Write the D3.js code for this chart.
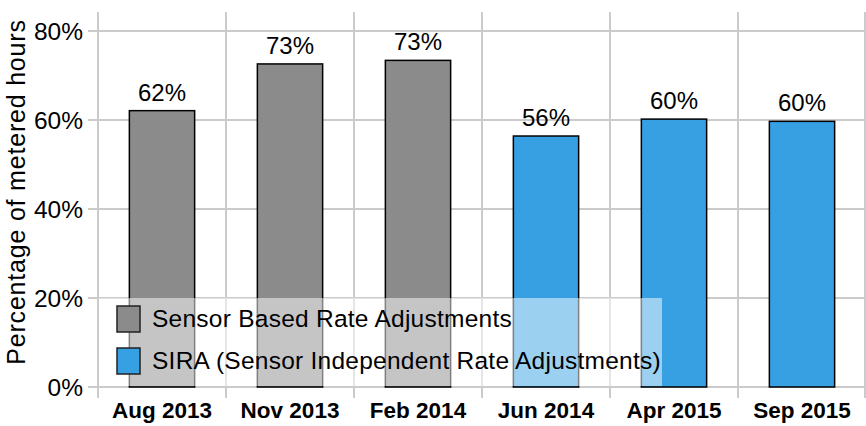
<!DOCTYPE html>
<html><head><meta charset="utf-8">
<script src="https://cdn.jsdelivr.net/npm/d3@7"></script>
<style>body{margin:0;background:#fff}svg{display:block}text{font-family:"Liberation Sans",Arial,sans-serif}</style>
</head><body><svg id="c" width="866" height="426"></svg>
<script>
const categories = ["Aug 2013","Nov 2013","Feb 2014","Jun 2014","Apr 2015","Sep 2015"];
const values = [62.1, 72.6, 73.4, 56.4, 60.2, 59.7];
const labels = ["62%","73%","73%","56%","60%","60%"];
const groups = ["Sensor Based Rate Adjustments","Sensor Based Rate Adjustments","Sensor Based Rate Adjustments","SIRA (Sensor Independent Rate Adjustments)","SIRA (Sensor Independent Rate Adjustments)","SIRA (Sensor Independent Rate Adjustments)"];
const legendItems = ["Sensor Based Rate Adjustments","SIRA (Sensor Independent Rate Adjustments)"];
const legendColors = ["#8a8b8a","#36a0e3"];
const yTicks = [0,20,40,60,80];

const svg = d3.select("#c");
const L = 98, R = 866, T = 12, B = 387;
const x = d3.scaleBand().domain(categories).range([L,R]).paddingInner(0.49).paddingOuter(0.245);
const y = d3.scaleLinear().domain([0,80]).range([B,31]);
const color = d3.scaleOrdinal().domain(legendItems).range(legendColors);
const grid = "#cbcbcb";

svg.append("g").selectAll("line").data(yTicks).join("line")
  .attr("x1",88).attr("x2",R).attr("y1",d=>y(d)).attr("y2",d=>y(d))
  .attr("stroke",grid).attr("stroke-width",2);
const bounds = d3.range(categories.length+1).map(i=>L+i*(R-L)/categories.length);
svg.append("g").selectAll("line").data(bounds).join("line")
  .attr("x1",d=>Math.min(d,R-1)).attr("x2",d=>Math.min(d,R-1)).attr("y1",T).attr("y2",398)
  .attr("stroke",grid).attr("stroke-width",2);

svg.append("g").selectAll("text").data(yTicks).join("text")
  .attr("x",83).attr("y",d=>y(d)).attr("dy","0.36em").attr("text-anchor","end")
  .attr("font-size",24.5).attr("fill","#000").text(d=>d+"%");
svg.append("text").attr("transform","translate(25,192) rotate(-90)")
  .attr("text-anchor","middle").attr("font-size",25).attr("letter-spacing",0.8)
  .attr("fill","#000").text("Percentage of metered hours");

svg.append("g").selectAll("rect").data(values).join("rect")
  .attr("x",(d,i)=>x(categories[i])).attr("width",x.bandwidth())
  .attr("y",d=>y(d)).attr("height",d=>y(0)-y(d))
  .attr("fill",(d,i)=>color(groups[i])).attr("stroke","#000").attr("stroke-width",1.5);
svg.append("g").selectAll("text").data(values).join("text")
  .attr("x",(d,i)=>x(categories[i])+x.bandwidth()/2).attr("y",d=>y(d)-10)
  .attr("text-anchor","middle").attr("font-size",24).attr("fill","#000").text((d,i)=>labels[i]);

svg.append("g").selectAll("text").data(categories).join("text")
  .attr("x",d=>x(d)+x.bandwidth()/2).attr("y",418).attr("text-anchor","middle")
  .attr("font-size",22.5).attr("font-weight","bold").attr("fill","#000").text(d=>d);

const lg = svg.append("g");
lg.append("rect").attr("x",99).attr("y",298).attr("width",563).attr("height",88)
  .attr("fill","#fff").attr("fill-opacity",0.5);
legendItems.forEach((t,i)=>{
  const yy = 306 + i*42;
  lg.append("rect").attr("x",117).attr("y",yy).attr("width",23).attr("height",26)
    .attr("fill",legendColors[i]).attr("stroke","#222").attr("stroke-width",1.5);
  lg.append("text").attr("x",152).attr("y",yy+21).attr("letter-spacing",0.25)
    .attr("font-size",24.5).attr("fill","#000").text(t);
});
</script></body></html>
